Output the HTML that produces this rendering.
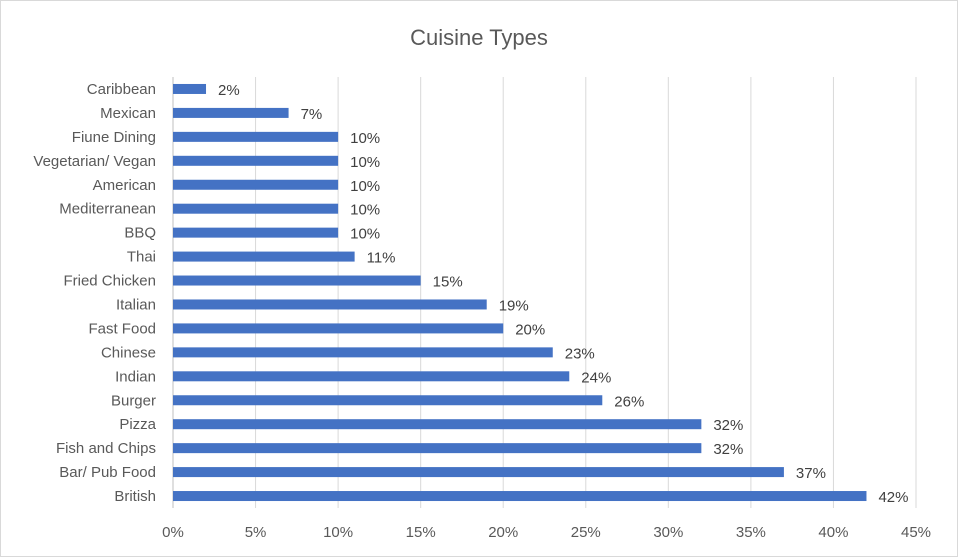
<!DOCTYPE html>
<html><head><meta charset="utf-8"><style>
body{margin:0;background:#fff;}
svg{display:block;font-family:"Liberation Sans",sans-serif;}
</style></head><body>
<svg id="chart" width="958" height="557">
<rect x="0.5" y="0.5" width="957" height="556" fill="#fff" stroke="#d9d9d9"/>
<text x="479" y="45" text-anchor="middle" font-size="22" fill="#595959">Cuisine Types</text>
<g id="grid"></g><g id="bars"></g><g id="labels"></g><g id="ticks"></g>
</svg>
<script>
const categories=["Caribbean","Mexican","Fiune Dining","Vegetarian/ Vegan","American","Mediterranean","BBQ","Thai","Fried Chicken","Italian","Fast Food","Chinese","Indian","Burger","Pizza","Fish and Chips","Bar/ Pub Food","British"];
const values=[2,7,10,10,10,10,10,11,15,19,20,23,24,26,32,32,37,42];
const tickValues=[0,5,10,15,20,25,30,35,40,45];
const x0=173,x1=916,xMax=45,yTop=77,yBot=508;
const xs=v=>x0+(v/xMax)*(x1-x0);
const step=(yBot-yTop)/categories.length;
const yc=i=>yTop+step*(i+0.5);
const NS="http://www.w3.org/2000/svg";
function mk(t,a,p){const e=document.createElementNS(NS,t);for(const k in a)e.setAttribute(k,a[k]);p.appendChild(e);return e;}
const g=document.getElementById('grid'),b=document.getElementById('bars'),l=document.getElementById('labels'),tk=document.getElementById('ticks');
tickValues.forEach(v=>{
 const ln=mk('line',{x1:xs(v),x2:xs(v),y1:yTop,y2:yBot,stroke:v===0?'#bfbfbf':'#d9d9d9','stroke-width':1},g);
 
 
 const t=mk('text',{x:xs(v),y:537,'text-anchor':'middle','font-size':15,fill:'#595959'},tk);
 t.textContent=v+'%';
 
 
});
categories.forEach((c,i)=>{
 const y=yc(i);
 const r=mk('rect',{x:x0,y:y-5,width:xs(values[i])-x0,height:10,fill:'#4472c4'},b);
 
 
 const t=mk('text',{x:x0-17,y:y+5,'text-anchor':'end','font-size':15,fill:'#595959'},l);
 t.textContent=c;
 
 
 const v=mk('text',{x:xs(values[i])+12,y:y+6,'font-size':15,fill:'#404040'},l);
 v.textContent=values[i]+'%';
 
 
});
</script>
</body></html>
